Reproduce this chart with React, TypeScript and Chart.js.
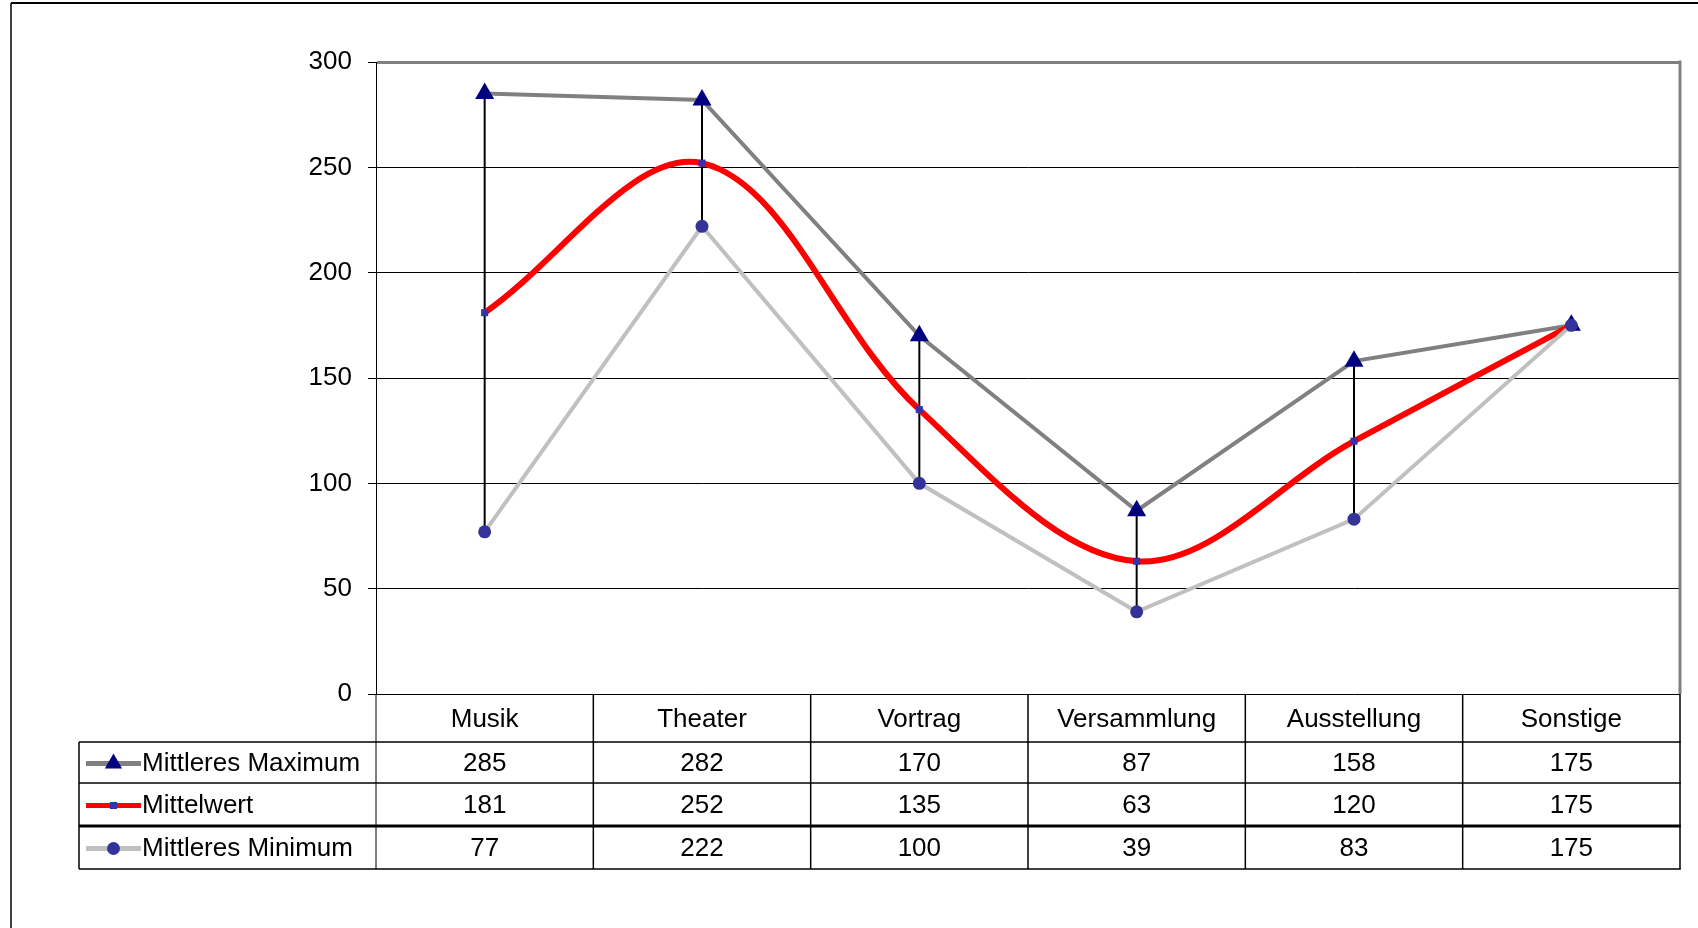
import React, { useEffect, useRef } from 'react';
import { Chart, registerables } from 'chart.js';

Chart.register(...registerables);

// ---- data ----
const categories = ['Musik', 'Theater', 'Vortrag', 'Versammlung', 'Ausstellung', 'Sonstige'];
const maxValues = [285, 282, 170, 87, 158, 175];
const meanValues = [181, 252, 135, 63, 120, 175];
const minValues = [77, 222, 100, 39, 83, 175];
const seriesNames = ['Mittleres Maximum', 'Mittelwert', 'Mittleres Minimum'];
const yTickValues = [0, 50, 100, 150, 200, 250, 300];

// ---- styles ----
const FONT_FAMILY = '"Liberation Sans", Arial, Helvetica, sans-serif';
const FONT_SIZE = 26;
const FONT = `${FONT_SIZE}px ${FONT_FAMILY}`;
const W = 1698;
const H = 928;
const AXIS_LEFT = 376;
const PLOT_TOP = 62;
const PLOT_BOTTOM = 694;
const PLOT_RIGHT = 1680;
const TABLE_LEFT = 79;
const HEADER_H = 48;
const ROW_H = [41, 43, 43];

const seriesStyles = [
  { line: '#808080', width: 4, marker: '#000080', style: 'triangle', radius: 11, tension: 0 },
  { line: '#ff0000', width: 6, marker: '#3333aa', style: 'rect', radius: 5, tension: 0.35 },
  { line: '#c0c0c0', width: 4, marker: '#333399', style: 'circle', radius: 6.5, tension: 0 },
];
const seriesValues = [maxValues, meanValues, minValues];

function drawMarker(ctx: CanvasRenderingContext2D, style: string, x: number, y: number, r: number, color: string) {
  ctx.save();
  ctx.fillStyle = color;
  ctx.beginPath();
  if (style === 'triangle') {
    ctx.moveTo(x, y - r);
    ctx.lineTo(x + r * Math.sin(Math.PI * 2 / 3), y - r * Math.cos(Math.PI * 2 / 3));
    ctx.lineTo(x - r * Math.sin(Math.PI * 2 / 3), y - r * Math.cos(Math.PI * 2 / 3));
    ctx.closePath();
  } else if (style === 'rect') {
    const s = r * Math.SQRT1_2;
    ctx.rect(x - s, y - s, 2 * s, 2 * s);
  } else {
    ctx.arc(x, y, r, 0, Math.PI * 2);
  }
  ctx.fill();
  ctx.restore();
}

function line(ctx: CanvasRenderingContext2D, x1: number, y1: number, x2: number, y2: number, color: string, w: number) {
  ctx.save();
  ctx.strokeStyle = color;
  ctx.lineWidth = w;
  ctx.beginPath();
  ctx.moveTo(x1, y1);
  ctx.lineTo(x2, y2);
  ctx.stroke();
  ctx.restore();
}

const framePlugin = {
  id: 'frame',
  beforeDraw(chart: any) {
    const ctx = chart.ctx as CanvasRenderingContext2D;
    ctx.save();
    ctx.fillStyle = '#ffffff';
    ctx.fillRect(0, 0, chart.width, chart.height);
    ctx.restore();
    line(ctx, 11, 3, chart.width, 3, '#000', 2);
    line(ctx, 11, 3, 11, chart.height, '#000', 1.5);
  },
};

const hiLoPlugin = {
  id: 'hiLo',
  beforeDatasetsDraw(chart: any) {
    const ctx = chart.ctx as CanvasRenderingContext2D;
    const xs = chart.scales.x;
    const ys = chart.scales.y;
    for (let i = 0; i < categories.length; i++) {
      const x = xs.getPixelForValue(i);
      line(ctx, x, ys.getPixelForValue(maxValues[i]), x, ys.getPixelForValue(minValues[i]), '#000', 2);
    }
    const a = chart.chartArea;
    line(ctx, a.right, a.top - 1.5, a.right, a.bottom, '#808080', 3);
  },
};

const tablePlugin = {
  id: 'dataTable',
  afterDraw(chart: any) {
    const ctx = chart.ctx as CanvasRenderingContext2D;
    const xs = chart.scales.x;
    const a = chart.chartArea;
    const n = categories.length;
    const colW = xs.getPixelForValue(1) - xs.getPixelForValue(0);
    const top = a.bottom;
    const rowTops = [top + HEADER_H];
    ROW_H.forEach((h, i) => rowTops.push(rowTops[i] + h));
    const bottom = rowTops[rowTops.length - 1];
    // vertical lines
    for (let i = 0; i <= n; i++) {
      const x = i < n ? xs.getPixelForValue(i) - colW / 2 : xs.getPixelForValue(n - 1) + colW / 2;
      line(ctx, x, top, x, bottom, '#000', i === 0 ? 1 : 1.5);
    }
    line(ctx, TABLE_LEFT, rowTops[0], TABLE_LEFT, bottom, '#000', 1.5);
    // horizontal lines
    rowTops.forEach((y, i) => line(ctx, TABLE_LEFT, y, a.right + 0.75, y, '#000', i === 2 ? 3 : 1.5));
    // rows
    ctx.save();
    ctx.font = FONT;
    ctx.fillStyle = '#000';
    ctx.textBaseline = 'middle';
    seriesValues.forEach((vals, r) => {
      const cy = (rowTops[r] + rowTops[r + 1]) / 2 + 1;
      const st = seriesStyles[r];
      // legend key
      line(ctx, TABLE_LEFT + 7, cy, TABLE_LEFT + 62, cy, st.line, 5);
      drawMarker(ctx, st.style, TABLE_LEFT + 34.5, cy, st.style === 'triangle' ? 10 : st.radius, st.marker);
      ctx.textAlign = 'left';
      ctx.fillText(seriesNames[r], TABLE_LEFT + 63, cy);
      ctx.textAlign = 'center';
      vals.forEach((v, i) => {
        ctx.fillText(String(v), xs.getPixelForValue(i), cy);
      });
    });
    ctx.restore();
  },
};

export default function App() {
  const canvasRef = useRef<HTMLCanvasElement | null>(null);

  useEffect(() => {
    if (!canvasRef.current) return;
    const chart = new Chart(canvasRef.current, {
      type: 'line',
      data: {
        labels: categories,
        datasets: seriesValues.map((vals, i) => {
          const st = seriesStyles[i];
          return {
            label: seriesNames[i],
            data: vals,
            borderColor: st.line,
            borderWidth: st.width,
            tension: st.tension,
            pointStyle: st.style as any,
            pointRadius: st.radius,
            pointHoverRadius: st.radius,
            pointBackgroundColor: st.marker,
            pointBorderColor: st.marker,
            pointBorderWidth: 0,
            fill: false,
            order: 3 - i,
          };
        }),
      },
      options: {
        animation: false,
        responsive: true,
        maintainAspectRatio: false,
        devicePixelRatio: 1,
        layout: { padding: { left: 0, top: PLOT_TOP, right: W - PLOT_RIGHT, bottom: H - PLOT_BOTTOM - HEADER_H } },
        plugins: {
          legend: { display: false },
          title: { display: false },
          tooltip: { enabled: false },
        },
        scales: {
          x: {
            type: 'category',
            offset: true,
            grid: { display: false, drawTicks: false },
            border: { display: false },
            ticks: { font: { family: FONT_FAMILY, size: FONT_SIZE }, color: '#000', padding: 10, maxRotation: 0, autoSkip: false },
            afterFit: (s: any) => { s.height = HEADER_H; },
          },
          y: {
            min: 0,
            max: 300,
            afterBuildTicks: (s: any) => { s.ticks = yTickValues.map((v) => ({ value: v })); },
            ticks: { font: { family: FONT_FAMILY, size: FONT_SIZE }, color: '#000', padding: 16 },
            grid: {
              color: (c: any) => (c.tick && c.tick.value === 300 ? '#808080' : '#000'),
              lineWidth: (c: any) => (c.tick && c.tick.value === 300 ? 3 : 1),
              tickColor: '#000',
              tickWidth: 1,
              tickLength: 8,
            },
            border: { color: '#000', width: 1 },
            afterFit: (s: any) => { s.width = AXIS_LEFT; },
          },
        },
      },
      plugins: [framePlugin, hiLoPlugin, tablePlugin],
    });
    return () => chart.destroy();
  }, []);

  return (
    <div style={{ position: 'absolute', left: 0, top: 0, width: W, height: H, background: '#fff' }}>
      <canvas ref={canvasRef} />
    </div>
  );
}
